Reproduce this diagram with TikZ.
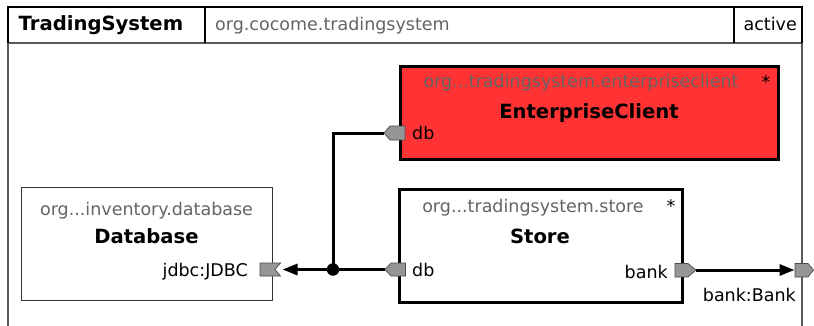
\documentclass[tikz,border=0pt]{standalone}
\usepackage{fontspec}
\setmainfont{DejaVu Sans}
\usetikzlibrary{arrows.meta}
\definecolor{ecred}{RGB}{255,51,51}
\definecolor{pkggray}{RGB}{100,100,100}
\definecolor{portgray}{RGB}{150,150,150}
\tikzset{
  frameline/.style={draw=black!65, line width=1.1pt},
  hdrline/.style={draw=black, line width=1.1pt},
  compbox/.style={draw=black, line width=3pt, inner sep=0pt, anchor=north west},
  thinbox/.style={draw=black!80, line width=1pt, inner sep=0pt, anchor=north west},
  pkgtxt/.style={text=pkggray, font=\fontsize{17.5}{20}\selectfont, inner sep=0pt},
  titletxt/.style={font=\fontsize{19.6}{22}\selectfont\bfseries, inner sep=0pt},
  plaintxt/.style={font=\fontsize{17.5}{20}\selectfont, inner sep=0pt},
  porttile/.style={fill=portgray, draw=black!70, line width=0.7pt},
  conn/.style={draw=black, line width=3pt},
  arr/.style={-{Triangle[length=15pt,width=11pt]}},
  junction/.style={circle, fill=black, inner sep=0pt, minimum size=12.5pt}
}
\begin{document}
\begin{tikzpicture}[x=1pt,y=-1pt]
\useasboundingbox (0,0) rectangle (814,325);
% outer frame
\fill[white] (0,0) rectangle (814,325);
\draw[frameline] (8,43) -- (8,330);
\draw[frameline] (802,43) -- (802,330);
\draw[frameline] (8,43) -- (802,43);
\draw[hdrline] (8,43) -- (8,7) -- (802,7) -- (802,43);
\draw[hdrline] (205,7) -- (205,43);
\draw[hdrline] (734,7) -- (734,43);
\node[titletxt, anchor=base west] (sysname) at (18.5,30) {TradingSystem};
\node[pkgtxt, anchor=base west] (syspkg) at (215,30) {org.cocome.tradingsystem};
\node[plaintxt, anchor=base east] (sysstate) at (797,30) {active};

% EnterpriseClient
\node[compbox, fill=ecred, minimum width=378pt, minimum height=93pt] (ec) at (399,65) {};
\node[pkgtxt, anchor=base] (ecpkg) at (581,87) {org...tradingsystem.enterpriseclient};
\node[plaintxt, anchor=base] (ecstar) at (766,88) {*};
\node[titletxt, anchor=base] (ecname) at (589,118) {EnterpriseClient};
\node[plaintxt, anchor=base west] (ecdblbl) at (412,139) {db};

% Store
\node[compbox, fill=white, minimum width=283pt, minimum height=113pt] (store) at (398,188) {};
\node[pkgtxt, anchor=base] (stpkg) at (533,212) {org...tradingsystem.store};
\node[plaintxt, anchor=base] (ststar) at (671,212) {*};
\node[titletxt, anchor=base] (stname) at (540,243) {Store};
\node[plaintxt, anchor=base west] (stdblbl) at (412,276) {db};
\node[plaintxt, anchor=base east] (stbanklbl) at (668,278) {bank};

% Database
\node[thinbox, fill=white, minimum width=251pt, minimum height=113pt] (dbase) at (21,187) {};
\node[pkgtxt, anchor=base] (dbpkg) at (146.5,215) {org...inventory.database};
\node[titletxt, anchor=base] (dbname) at (146.5,243) {Database};
\node[plaintxt, anchor=base east] (dbjdbc) at (248,276) {jdbc:JDBC};

% ports
\draw[porttile] (384,133) -- (390,126) -- (405,126) -- (405,140) -- (390,140) -- cycle;
\draw[porttile] (385,269.5) -- (391,263) -- (405.5,263) -- (405.5,276) -- (391,276) -- cycle;
\draw[porttile] (260,263) -- (280.5,263) -- (275,269.5) -- (280.5,276) -- (260,276) -- cycle;
\draw[porttile] (675,263.5) -- (688,263.5) -- (696,270) -- (688,277) -- (675,277) -- cycle;
\draw[porttile] (795,263.5) -- (808,263.5) -- (813.5,270) -- (808,277) -- (795,277) -- cycle;
\coordinate (ecdb) at (384,133);
\coordinate (stdb) at (385,269.5);
\coordinate (jdbc) at (282.5,269.5);
\coordinate (stbank) at (696,270);
\coordinate (outbank) at (794.5,270);
\node[plaintxt, anchor=base east] (outbanklbl) at (796,301) {bank:Bank};

% connectors
\node[junction] (junc) at (333,269.5) {};
\draw[conn] (junc.center) |- (ecdb);
\draw[conn] (stdb) -- (junc.center);
\draw[conn, arr] (junc.center) -- (jdbc);
\draw[conn, arr] (stbank) -- (outbank);
\end{tikzpicture}
\end{document}
